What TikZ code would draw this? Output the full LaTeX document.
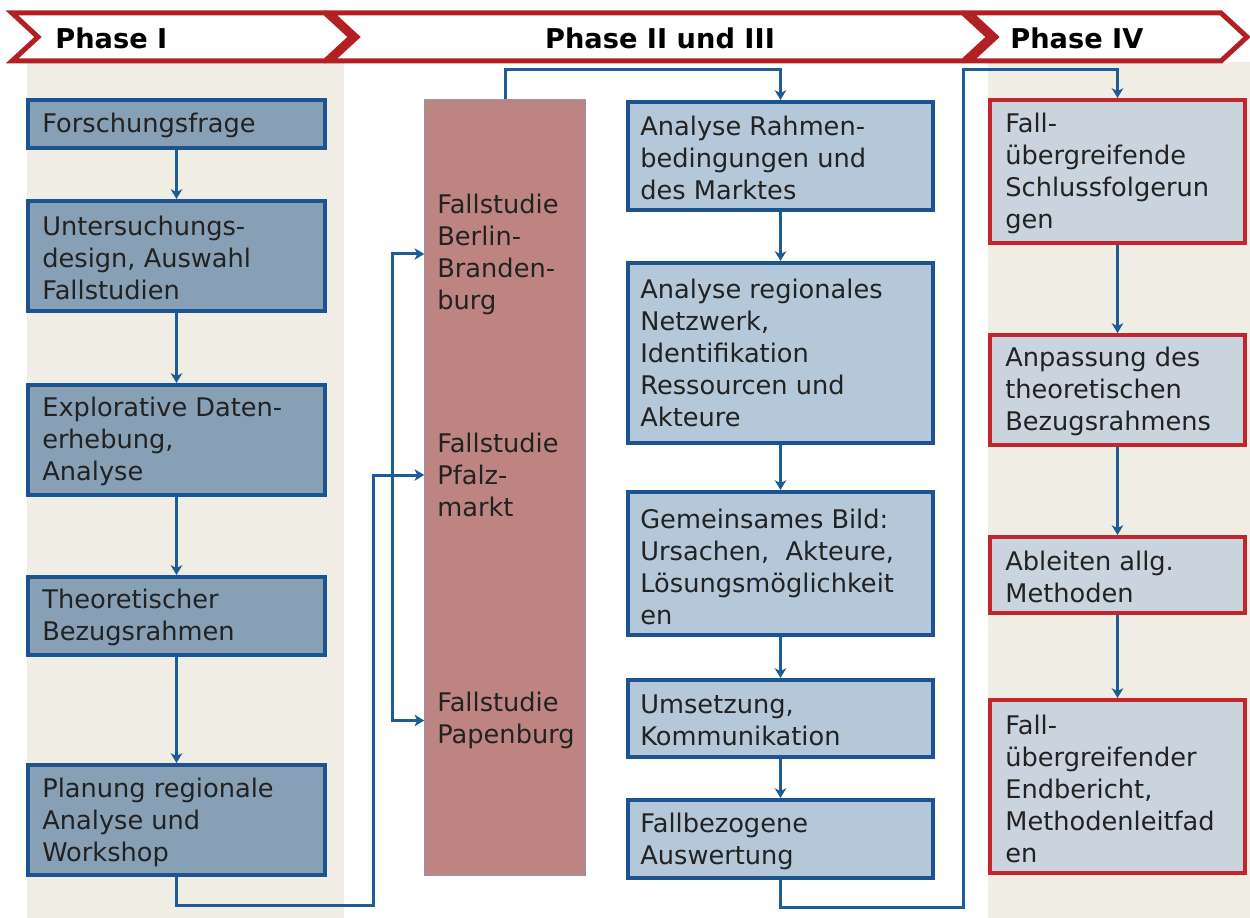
\documentclass[tikz,border=0pt]{standalone}
\usepackage{fontspec}
\setmainfont{DejaVu Sans}
\usetikzlibrary{arrows.meta,fit,calc}

\definecolor{bandred}{RGB}{178,32,36}
\definecolor{panel}{RGB}{239,237,228}
\definecolor{darkfill}{RGB}{135,160,182}
\definecolor{lightfill}{RGB}{181,200,217}
\definecolor{greyfill}{RGB}{201,212,223}
\definecolor{boxblue}{RGB}{28,84,146}
\definecolor{boxred}{RGB}{192,38,44}
\definecolor{casefill}{RGB}{190,132,130}
\definecolor{caseedge}{RGB}{168,140,152}
\definecolor{connblue}{RGB}{30,92,152}
\definecolor{txt}{RGB}{34,34,34}

\tikzset{
  chevron/.style={draw=bandred, fill=white, line width=0.1cm, line join=miter},
  phasehead/.style={font=\bfseries\fontsize{15.5}{19}\selectfont, text=black, inner sep=0},
  darkbox/.style={draw=boxblue, fill=darkfill, line width=0.08cm, inner sep=0},
  lightbox/.style={draw=boxblue, fill=lightfill, line width=0.08cm, inner sep=0},
  concbox/.style={draw=boxred, fill=greyfill, line width=0.08cm, inner sep=0},
  casebox/.style={draw=caseedge, fill=casefill, line width=0.03cm, inner sep=0},
  label/.style={anchor=west, align=left, inner sep=0, text=txt,
    font=\fontsize{14.6}{18.2}\selectfont},
  conn/.style={draw=connblue, line width=0.06cm},
  flow/.style={conn, -{Stealth[length=5.5pt,width=6.5pt,inset=1.5pt]}},
}

\begin{document}
\begin{tikzpicture}[x=0.02cm, y=-0.02cm]
\useasboundingbox (0,0) rectangle (1250,918);

% column panels
\fill[panel] (27,62) rectangle (344,918);
\fill[panel] (988,62) rectangle (1250,918);

% phase banner
\draw[chevron] (12,13) -- (325,13) -- (351,37) -- (325,61) -- (12,61) -- (38,37) -- cycle;
\draw[chevron] (331,13) -- (963,13) -- (989,37) -- (963,61) -- (331,61) -- (357,37) -- cycle;
\draw[chevron] (970,13) -- (1221,13) -- (1247,37) -- (1221,61) -- (970,61) -- (996,37) -- cycle;
\node[phasehead, anchor=west] (ph1) at (55,38) {Phase I};
\node[phasehead] (ph2) at (660,38) {Phase II und III};
\node[phasehead, anchor=west] (ph4) at (1010,38) {Phase IV};

% Phase I
\node[darkbox, fit={(28,100) (325,148)}] (forsch) {};
\node[label] at (42,125) {Forschungsfrage};
\node[darkbox, fit={(28,201) (325,311)}] (design) {};
\node[label] at (42,258) {Untersuchungs-\\design, Auswahl\\Fallstudien};
\node[darkbox, fit={(28,385) (325,495)}] (explor) {};
\node[label] at (42,441.5) {Explorative Daten-\\erhebung,\\Analyse};
\node[darkbox, fit={(28,577) (325,655)}] (theorie) {};
\node[label] at (42,617.5) {Theoretischer\\Bezugsrahmen};
\node[darkbox, fit={(28,765) (325,875)}] (planung) {};
\node[label] at (42,822) {Planung regionale\\Analyse und\\Workshop};

% case studies
\node[casebox, fit={(425,100) (585,875)}] (fall) {};
\node[label] (berlin) at (437,254) {Fallstudie\\Berlin-\\Branden-\\burg};
\node[label] (pfalz) at (437,475) {Fallstudie\\Pfalz-\\markt};
\node[label] (papen) at (437,720.5) {Fallstudie\\Papenburg};

% Phase II and III
\node[lightbox, fit={(628,102) (933,210)}] (rahmen) {};
\node[label] at (640,157.5) {Analyse Rahmen-\\bedingungen und\\des Marktes};
\node[lightbox, fit={(628,263) (933,443)}] (netz) {};
\node[label] at (640,352.5) {Analyse regionales\\Netzwerk,\\Identifikation\\Ressourcen und\\Akteure};
\node[lightbox, fit={(628,492) (933,635)}] (bild) {};
\node[label] at (640,567) {Gemeinsames Bild:\\Ursachen,\ \ Akteure,\\Lösungsmöglichkeit\\en};
\node[lightbox, fit={(628,680) (933,757)}] (umsetz) {};
\node[label] at (640,720.5) {Umsetzung,\\Kommunikation};
\node[lightbox, fit={(628,800) (933,878)}] (auswert) {};
\node[label] at (640,841.5) {Fallbezogene\\Auswertung};

% Phase IV
\node[concbox, fit={(990,100) (1245,243)}] (schluss) {};
\node[label] at (1005,173.5) {Fall-\\übergreifende\\Schlussfolgerun\\gen};
\node[concbox, fit={(990,335) (1245,445)}] (anpass) {};
\node[label] at (1005,391.5) {Anpassung des\\theoretischen\\Bezugsrahmens};
\node[concbox, fit={(990,537) (1245,613)}] (ableit) {};
\node[label] at (1005,577) {Ableiten allg.\\Methoden};
\node[concbox, fit={(990,700) (1245,873)}] (endber) {};
\node[label] at (1005,789) {Fall-\\übergreifender\\Endbericht,\\Methodenleitfad\\en};

% routing points
\coordinate (p1) at (373,905);
\coordinate (brx) at (392,0);
\coordinate (q1) at (963,907);
\coordinate (q2) at (963,70);

% connectors, Phase I
\draw[flow] (forsch) -- (design);
\draw[flow] (design) -- (explor);
\draw[flow] (explor) -- (theorie);
\draw[flow] (theorie) -- (planung);
\draw[flow] (planung.south) |- (p1) |- (fall.west |- pfalz);
\draw[conn, {Stealth[length=5.5pt,width=6.5pt,inset=1.5pt]}-{Stealth[length=5.5pt,width=6.5pt,inset=1.5pt]}]
  (fall.west |- berlin) -- (berlin -| brx) -- (papen -| brx) -- (fall.west |- papen);

% connectors, Phase II and III
\draw[flow] (fall.north) -- ++(0,-30) -| (rahmen.north);
\draw[flow] (rahmen) -- (netz);
\draw[flow] (netz) -- (bild);
\draw[flow] (bild) -- (umsetz);
\draw[flow] (umsetz) -- (auswert);
\draw[flow] (auswert.south) |- (q1) -- (q2) -| (schluss.north);

% connectors, Phase IV
\draw[flow] (schluss) -- (anpass);
\draw[flow] (anpass) -- (ableit);
\draw[flow] (ableit) -- (endber);
\end{tikzpicture}
\end{document}
